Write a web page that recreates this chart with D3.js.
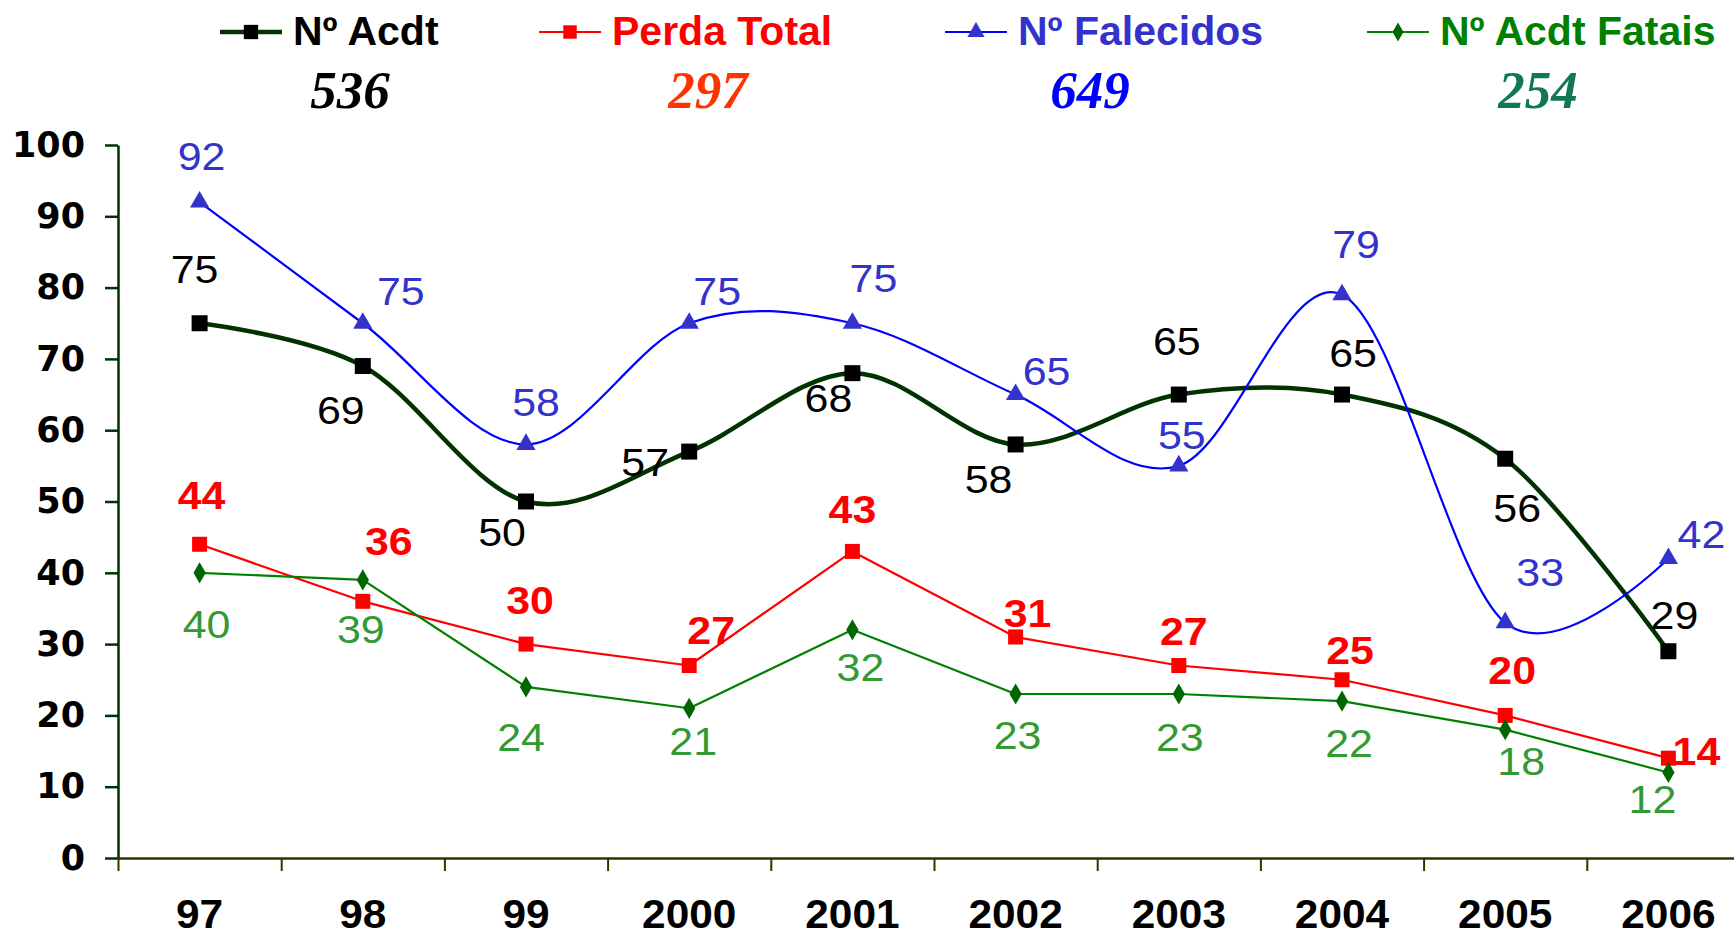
<!DOCTYPE html>
<html>
<head>
<meta charset="utf-8">
<script src="https://cdn.jsdelivr.net/npm/d3@7"></script>
<style>
  body { margin: 0; background: #fff; }
  svg { display: block; }
</style>
</head>
<body>
<svg width="1734" height="936"></svg>
<script>
// categories (years) and series values
var years = ["97", "98", "99", "2000", "2001", "2002", "2003", "2004", "2005", "2006"];
var acdt = [75, 69, 50, 57, 68, 58, 65, 65, 56, 29];
var perdaTotal = [44, 36, 30, 27, 43, 31, 27, 25, 20, 14];
var falecidos = [92, 75, 58, 75, 75, 65, 55, 79, 33, 42];
var acdtFatais = [40, 39, 24, 21, 32, 23, 23, 22, 18, 12];
var seriesNames = ["Nº Acdt", "Perda Total", "Nº Falecidos", "Nº Acdt Fatais"];
var totals = ["536", "297", "649", "254"];
var yTicks = [0, 10, 20, 30, 40, 50, 60, 70, 80, 90, 100];

// label offsets from each point (px), as placed in the original
var acdtLab = [[-5,-54],[-22,44],[-24,30],[-44,10],[-24,25],[-27,34],[-2,-54],[11,-42],[12,49],[6,-36]];
var perdaLab = [[2,-49],[26,-60],[4,-44],[22,-36],[0,-42],[12,-24],[5,-35],[8,-30],[7,-45],[28,-7]];
var falLab = [[2,-46],[38,-32],[10,-43],[28,-32],[21,-45],[31,-24],[3,-31],[14,-51],[35,-51],[33,-25]];
var fatLab = [[7,51],[-2,49],[-5,50],[4,33],[8,37],[2,41],[1,43],[7,42],[16,31],[-16,27]];

var svg = d3.select("svg");

var plotLeft = 118, plotBottom = 858, plotTop = 145, step = 163.2;

var x = d3.scaleBand().domain(years).range([plotLeft, plotLeft + step * years.length]).padding(0);
var xb = d3.scaleLinear().domain([0, years.length]).range([plotLeft, plotLeft + step * years.length]);
var y = d3.scaleLinear().domain([0, 100]).range([plotBottom, plotTop]);

function px(i) { return x(years[i]) + x.bandwidth() / 2; }

// y axis
var yAxis = svg.append("g")
  .attr("transform", "translate(" + plotLeft + ",0)")
  .call(d3.axisLeft(y).tickValues(yTicks).tickSize(13).tickSizeOuter(0).tickPadding(20));
yAxis.select(".domain").attr("stroke", "#003300").attr("stroke-width", 2.5);
yAxis.selectAll(".tick line").attr("stroke", "#003300").attr("stroke-width", 2.5);
yAxis.selectAll("text")
  .attr("font-family", "DejaVu Sans")
  .attr("font-weight", "bold")
  .attr("font-size", 35)
  .attr("fill", "#000");

// x axis: boundary ticks
var xAxis = svg.append("g")
  .attr("transform", "translate(0," + plotBottom + ")")
  .call(d3.axisBottom(xb).tickValues(d3.range(0, years.length + 1)).tickSize(13).tickSizeOuter(0).tickFormat(""));
xAxis.select(".domain").attr("stroke", "#333300").attr("stroke-width", 2.5);
xAxis.selectAll(".tick line").attr("stroke", "#333300").attr("stroke-width", 2);

// x axis: category labels
var xLabels = svg.append("g")
  .attr("transform", "translate(0," + plotBottom + ")")
  .call(d3.axisBottom(x).tickSize(0).tickPadding(42));
xLabels.select(".domain").remove();
xLabels.selectAll("text")
  .attr("font-family", "Liberation Sans, Arial")
  .attr("font-weight", "bold")
  .attr("font-size", 40)
  .attr("transform", "scale(1.06,1)")
  .attr("fill", "#000");

var series = [
  { name: seriesNames[0], values: acdt, lab: acdtLab, line: "#003300", width: 4.5, curve: true,
    symbol: d3.symbolSquare, size: 256, mark: "#000", text: "#000", weight: "normal" },
  { name: seriesNames[1], values: perdaTotal, lab: perdaLab, line: "#FF0000", width: 2.2, curve: false,
    symbol: d3.symbolSquare, size: 225, mark: "#FF0000", text: "#FF0000", weight: "bold" },
  { name: seriesNames[2], values: falecidos, lab: falLab, line: "#0000FF", width: 2.2, curve: true,
    symbol: d3.symbolTriangle, size: 160, mark: "#3333CC", text: "#3333CC", weight: "normal" },
  { name: seriesNames[3], values: acdtFatais, lab: fatLab, line: "#008000", width: 2.2, curve: false,
    symbol: d3.symbolDiamond, size: 130, mark: "#006600", text: "#339933", weight: "normal" }
];

series.forEach(function(s) {
  var line = d3.line()
    .x(function(d, i) { return px(i); })
    .y(function(d) { return y(d); })
    .curve(s.curve ? d3.curveCardinal.tension(0) : d3.curveLinear);

  svg.append("path")
    .datum(s.values)
    .attr("d", line)
    .attr("fill", "none")
    .attr("stroke", s.line)
    .attr("stroke-width", s.width)
    .attr("stroke-linejoin", "round");

  svg.append("g").selectAll("path")
    .data(s.values)
    .enter().append("path")
    .attr("transform", function(d, i) { return "translate(" + px(i) + "," + y(d) + ")"; })
    .attr("d", d3.symbol().type(s.symbol).size(s.size))
    .attr("fill", s.mark);
});

// data labels on top (slightly wide, like the original)
series.forEach(function(s) {
  svg.append("g").selectAll("text")
    .data(s.values)
    .enter().append("text")
    .attr("transform", function(d, i) {
      return "translate(" + (px(i) + s.lab[i][0]) + "," + (y(d) + s.lab[i][1]) + ") scale(1.1,1)";
    })
    .attr("dy", "0.36em")
    .attr("text-anchor", "middle")
    .attr("font-family", "Liberation Sans, Arial")
    .attr("font-weight", s.weight)
    .attr("font-size", 39)
    .attr("fill", s.text)
    .text(function(d) { return d; });
});

// legend
var legendX = [220, 539, 945, 1367];
var legendText = ["#000000", "#FF0000", "#3333CC", "#008000"];
var totalX = [350, 708, 1090, 1538];
var totalColor = ["#000000", "#FF3300", "#0000FF", "#117755"];

series.forEach(function(s, i) {
  var g = svg.append("g").attr("transform", "translate(" + legendX[i] + ",32)");
  g.append("line")
    .attr("x1", 0).attr("x2", 62).attr("y1", 0).attr("y2", 0)
    .attr("stroke", s.line).attr("stroke-width", s.width);
  g.append("path")
    .attr("transform", "translate(31,0)")
    .attr("d", d3.symbol().type(s.symbol).size(s.size * 0.8))
    .attr("fill", s.mark);
  g.append("text")
    .attr("x", 73).attr("y", 13)
    .attr("font-family", "Liberation Sans, Arial")
    .attr("font-weight", "bold")
    .attr("font-size", 41)
    .attr("fill", legendText[i])
    .text(s.name);

  svg.append("text")
    .attr("x", totalX[i]).attr("y", 108)
    .attr("text-anchor", "middle")
    .attr("font-family", "Liberation Serif, Times New Roman")
    .attr("font-weight", "bold")
    .attr("font-style", "italic")
    .attr("font-size", 53)
    .attr("fill", totalColor[i])
    .text(totals[i]);
});
</script>
</body>
</html>
